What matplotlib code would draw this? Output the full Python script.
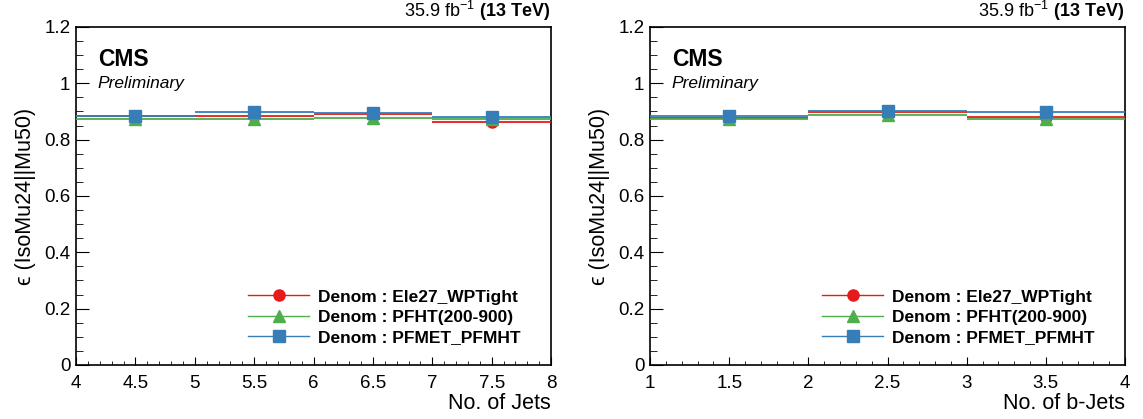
import matplotlib
matplotlib.use("Agg")
import matplotlib.pyplot as plt
from matplotlib.lines import Line2D
from matplotlib.ticker import MultipleLocator, FormatStrFormatter

plt.rcParams['font.family'] = ['Liberation Sans', 'DejaVu Sans']
plt.rcParams['mathtext.fontset'] = 'custom'
plt.rcParams['mathtext.rm'] = 'Liberation Sans'
plt.rcParams['mathtext.bf'] = 'Liberation Sans:bold'
plt.rcParams['axes.unicode_minus'] = False

# Effizienz van IsoMu24||Mu50 per bin
jets_centers = [4.5, 5.5, 6.5, 7.5]
jets_ele27 = [0.883, 0.885, 0.890, 0.864]
jets_pfht = [0.873, 0.873, 0.876, 0.873]
jets_pfmet = [0.885, 0.899, 0.893, 0.881]

bjets_centers = [1.5, 2.5, 3.5]
bjets_ele27 = [0.876, 0.897, 0.879]
bjets_pfht = [0.873, 0.887, 0.872]
bjets_pfmet = [0.884, 0.902, 0.899]

labels = ['Denom : Ele27_WPTight', 'Denom : PFHT(200-900)', 'Denom : PFMET_PFMHT']
colors = ['#e41a1c', '#4daf4a', '#377eb8']
markers = ['o', '^', 's']

fig = plt.figure(figsize=(11.43, 4.19), dpi=100)
ax1 = fig.add_axes([0.0665, 0.129, 0.4156, 0.8067])
ax2 = fig.add_axes([0.5687, 0.129, 0.4156, 0.8067])


def draw(ax, x, series, xlim, xlabel):
    # rood, dan blauw, dan groen bovenop
    for i in [0, 2, 1]:
        ax.errorbar(x, series[i], xerr=0.5, yerr=0.003, fmt=markers[i],
                    color=colors[i], ms=8 if i == 0 else 9, elinewidth=1.3,
                    capsize=0, zorder=3 + i)
    ax.set_xlim(*xlim)
    ax.set_ylim(0, 1.2)
    ax.xaxis.set_major_locator(MultipleLocator(0.5))
    ax.xaxis.set_minor_locator(MultipleLocator(0.1))
    ax.xaxis.set_major_formatter(FormatStrFormatter('%g'))
    ax.yaxis.set_major_locator(MultipleLocator(0.2))
    ax.yaxis.set_minor_locator(MultipleLocator(0.05))
    ax.yaxis.set_major_formatter(FormatStrFormatter('%g'))
    ax.tick_params(axis='both', which='both', direction='in', labelsize=13.5,
                   top=False, right=False)
    ax.tick_params(axis='x', which='major', length=6, pad=7)
    ax.tick_params(axis='x', which='minor', length=3)
    ax.tick_params(axis='y', which='major', length=9.5, pad=4)
    ax.tick_params(axis='y', which='minor', length=5)
    for s in ax.spines.values():
        s.set_linewidth(1.2)
    ax.set_xlabel(xlabel, fontsize=15.5, loc='right', labelpad=1)
    ax.set_ylabel('\u03f5 (IsoMu24||Mu50)', fontsize=15.5, loc='center', labelpad=6)
    ax.text(0.046, 0.905, 'CMS', transform=ax.transAxes, fontsize=16.5,
            fontweight='bold', va='center')
    ax.text(0.046, 0.833, 'Preliminary', transform=ax.transAxes, fontsize=12.5,
            style='italic', va='center')
    ax.text(1.0, 1.012, r'35.9 fb$^{-1}$ $\mathbf{(13\ TeV)}$',
            transform=ax.transAxes, fontsize=13, ha='right', va='bottom')
    handles = [Line2D([], [], color=colors[i], marker=markers[i],
                      ms=8 if i == 0 else 9, lw=1.0) for i in range(3)]
    ax.legend(handles, labels, loc='lower left', bbox_to_anchor=(0.33, 0.012),
              frameon=False, prop={'weight': 'bold', 'size': 12.5},
              handlelength=3.5, handletextpad=0.5, labelspacing=0.3)


draw(ax1, jets_centers, [jets_ele27, jets_pfht, jets_pfmet], (4, 8), 'No. of Jets')
draw(ax2, bjets_centers, [bjets_ele27, bjets_pfht, bjets_pfmet], (1, 4), 'No. of b-Jets')

fig.savefig('out.png', dpi=100)
